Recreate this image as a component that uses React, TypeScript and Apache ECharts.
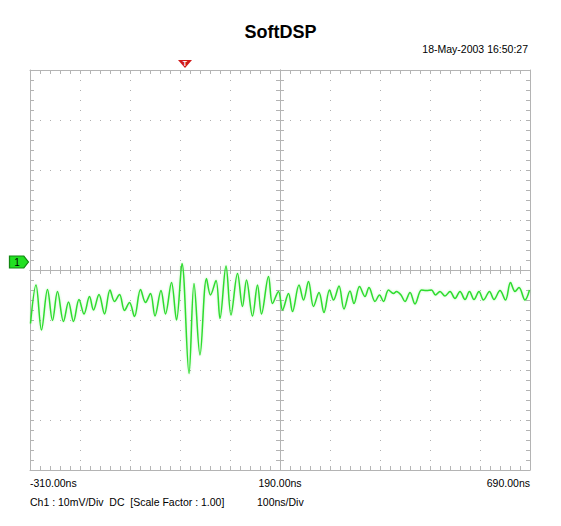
import React, { useEffect, useRef } from "react";
import * as echarts from "echarts";

// ---- data (time in ns, amplitude in mV; screen centre = 0 mV) ----
const timeNs = [
  -309, -298, -287, -275, -265, -255, -243, -233, -223, -212,
  -202, -191, -183, -172, -161, -150, -141, -131, -121, -111,
  -101, -89, -79, -69, -60, -48, -39, -27, -17, -6,
  8, 18, 30, 43, 51, 62, 70, 82, 92, 105,
  115, 123, 135, 145, 153, 167, 175, 187, 195, 207,
  215, 228, 237, 247, 257, 268, 278, 289, 297, 308,
  318, 330, 338, 349, 360, 368, 380, 389, 397, 407,
  417, 423, 432, 440, 450, 460, 473, 483, 493, 501,
  510, 520, 530, 540, 550, 560, 569, 578, 588, 597,
  609, 618, 630, 641, 651, 660, 668, 680, 689,
];
const voltMv = [
  -10.7, -3.0, -12.0, -3.9, -10.1, -4.3, -10.3, -6.4, -10.3, -5.9,
  -8.8, -5.3, -8.0, -4.9, -8.8, -4.0, -6.3, -4.9, -8.1, -6.5,
  -9.3, -3.9, -6.5, -4.7, -9.2, -4.1, -8.8, -2.5, -10.0, 1.3,
  -20.7, -2.7, -17.0, -1.7, -5.0, -2.1, -9.7, 0.8, -9.0, -0.7,
  -7.3, -2.0, -9.2, -3.0, -8.8, -1.3, -6.7, -4.3, -8.0, -4.7,
  -8.3, -3.0, -6.0, -2.3, -7.3, -4.5, -8.5, -4.0, -6.0, -3.2,
  -7.8, -4.2, -6.7, -3.3, -5.3, -3.5, -6.3, -5.0, -6.3, -4.0,
  -4.7, -4.3, -5.0, -6.3, -4.5, -6.8, -4.0, -4.1, -4.0, -5.0,
  -4.3, -5.2, -4.3, -5.7, -4.3, -5.9, -4.3, -5.9, -4.3, -6.0,
  -4.3, -5.9, -4.1, -6.0, -2.5, -4.3, -3.5, -6.0, -4.0,
];

const xMin = -310;
const xMax = 690;
const xDiv = 100; // ns / div
const yMin = -40;
const yMax = 40;
const yDiv = 10; // mV / div
const xTickLabels = [-310, 190, 690];
const triggerTimeNs = 0;
const groundLevelMv = 1.6;

const titleText = "SoftDSP";
const dateText = "18-May-2003 16:50:27";
const channelText = "Ch1 : 10mV/Div  DC  [Scale Factor : 1.00]";
const timebaseText = "100ns/Div";

const FONT = "'Liberation Sans', Arial, sans-serif";
const GRID_COLOR = "#b4b4b4";
const DOT_COLOR = "#b0b0b0";
const TRACE_COLOR = "#2edc2e";

export default function App() {
  const ref = useRef<HTMLDivElement>(null);

  useEffect(() => {
    if (!ref.current) return;
    const chart = echarts.init(ref.current, null, { renderer: "svg" });
    const lineStyle = { color: GRID_COLOR, width: 1 };

    const mkX = (opts: any) => ({
      type: "value",
      min: xMin,
      max: xMax,
      interval: xDiv,
      axisLine: { show: true, onZero: false, lineStyle },
      axisTick: { show: true, inside: true, length: 4, lineStyle },
      minorTick: { show: true, splitNumber: 5, length: 4, lineStyle },
      splitLine: { show: false },
      minorSplitLine: { show: false },
      axisLabel: { show: false },
      ...opts,
    });
    const mkY = (opts: any) => ({
      type: "value",
      min: yMin,
      max: yMax,
      interval: yDiv,
      axisLine: { show: true, onZero: false, lineStyle },
      axisTick: { show: true, inside: true, length: 4, lineStyle },
      minorTick: { show: true, splitNumber: 5, length: 4, lineStyle },
      splitLine: { show: false },
      minorSplitLine: { show: false },
      axisLabel: { show: false },
      ...opts,
    });

    const data = timeNs.map((t, i) => [t, voltMv[i]]);

    chart.setOption({
      animation: false,
      backgroundColor: "#ffffff",
      textStyle: { fontFamily: FONT },
      grid: { left: 30, top: 70, width: 500, height: 400, containLabel: false },
      xAxis: [
        mkX({
          position: "bottom",
          splitLine: { show: true, lineStyle: { color: DOT_COLOR, width: 1, type: [1, 9] } },
          axisLabel: {
            show: true,
            margin: 7,
            color: "#000",
            fontSize: 10.5,
            fontFamily: FONT,
            alignMinLabel: "left",
            alignMaxLabel: "right",
            formatter: (v: number) =>
              xTickLabels.some((l) => Math.abs(l - v) < 1e-6) ? `${v.toFixed(2)}ns` : "",
          },
        }),
        mkX({ position: "top" }),
        mkX({ position: "bottom", offset: -200 }),
        mkX({ position: "bottom", offset: -200, axisTick: { show: true, inside: false, length: 4, lineStyle }, minorTick: { show: true, splitNumber: 5, length: 4, lineStyle } }),
      ],
      yAxis: [
        mkY({
          position: "left",
          splitLine: { show: true, lineStyle: { color: DOT_COLOR, width: 1, type: [1, 9] } },
        }),
        mkY({ position: "right" }),
        mkY({ position: "left", offset: -250 }),
        mkY({ position: "left", offset: -250, axisTick: { show: true, inside: false, length: 4, lineStyle }, minorTick: { show: true, splitNumber: 5, length: 4, lineStyle } }),
      ],
      series: [
        {
          type: "line",
          xAxisIndex: 0,
          yAxisIndex: 0,
          data,
          smooth: 0.35,
          showSymbol: false,
          symbol: "none",
          lineStyle: { color: TRACE_COLOR, width: 1.5, shadowColor: "rgba(60,230,60,0.35)", shadowBlur: 2 },
          markPoint: {
            silent: true,
            data: [
              {
                coord: [triggerTimeNs, yMax],
                symbol: "path://M0,0L14,0L7,8Z",
                symbolSize: [14, 8],
                symbolOffset: [0, -6],
                itemStyle: { color: "#d01a1a" },
                label: { show: true, formatter: "T", color: "#fff", fontSize: 7, fontWeight: "bold", offset: [0, -1] },
              },
              {
                coord: [xMin, groundLevelMv],
                symbol: "path://M0,0L15,0L20,6L15,12L0,12Z",
                symbolSize: [19, 12],
                symbolOffset: [-11, 0],
                itemStyle: { color: "#22e022", borderColor: "#118811", borderWidth: 1 },
                label: { show: true, formatter: "1", color: "#000", fontSize: 10, offset: [-2, 0] },
              },
            ],
          },
        },
      ],
      graphic: [
        {
          type: "text",
          left: "center",
          top: 23,
          style: { text: titleText, font: `bold 18px ${FONT}`, fill: "#000" },
        },
        {
          type: "text",
          right: 33,
          top: 43,
          style: { text: dateText, font: `10.5px ${FONT}`, fill: "#000" },
        },
        {
          type: "text",
          left: 30,
          top: 496,
          style: { text: channelText, font: `10.5px ${FONT}`, fill: "#000" },
        },
        {
          type: "text",
          left: 257,
          top: 496,
          style: { text: timebaseText, font: `10.5px ${FONT}`, fill: "#000" },
        },
      ],
    });

    return () => chart.dispose();
  }, []);

  return (
    <div
      ref={ref}
      style={{ position: "fixed", left: 0, top: 0, width: 561, height: 526, background: "#fff" }}
    />
  );
}
